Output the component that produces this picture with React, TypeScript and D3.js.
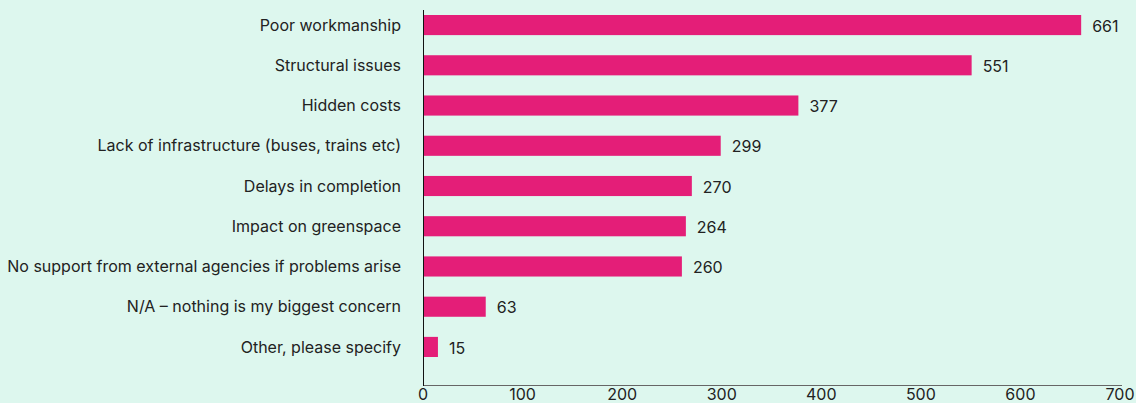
import React, { useEffect, useRef } from 'react';
import * as d3 from 'd3';

const categories = [
  'Poor workmanship',
  'Structural issues',
  'Hidden costs',
  'Lack of infrastructure (buses, trains etc)',
  'Delays in completion',
  'Impact on greenspace',
  'No support from external agencies if problems arise',
  'N/A – nothing is my biggest concern',
  'Other, please specify',
];
const values = [661, 551, 377, 299, 270, 264, 260, 63, 15];
const xTicks = [0, 100, 200, 300, 400, 500, 600, 700];

const width = 1136;
const height = 403;
const marginLeft = 423;
const marginRight = 16;

const App: React.FC = () => {
  const svgRef = useRef<SVGSVGElement>(null);

  useEffect(() => {
    document.body.style.margin = '0';
    if (!svgRef.current) return;
    const svg = d3.select(svgRef.current);
    svg.selectAll('*').remove();

    const x = d3.scaleLinear().domain([0, 700]).range([marginLeft, width - marginRight]);
    const y = d3.scaleBand<string>()
      .domain(categories)
      .range([15, 357])
      .paddingInner(0.5)
      .paddingOuter(0);

    svg.append('rect')
      .attr('width', width)
      .attr('height', height)
      .attr('fill', '#ddf7ee');

    const font = 'Inter, "Noto Sans", sans-serif';

    // bars
    svg.selectAll('.bar')
      .data(values)
      .enter()
      .append('rect')
      .attr('class', 'bar')
      .attr('x', x(0))
      .attr('y', (_, i) => y(categories[i]) || 0)
      .attr('width', d => x(d) - x(0))
      .attr('height', y.bandwidth())
      .attr('fill', '#e41e78');

    // value labels
    svg.selectAll('.val')
      .data(values)
      .enter()
      .append('text')
      .attr('class', 'val')
      .attr('x', d => x(d) + 11)
      .attr('y', (_, i) => (y(categories[i]) || 0) + y.bandwidth() / 2 + 1)
      .attr('dy', '0.35em')
      .attr('font-family', font)
      .attr('font-size', 16)
      .attr('fill', '#222')
      .text(d => String(d));

    // category labels
    svg.selectAll('.cat')
      .data(categories)
      .enter()
      .append('text')
      .attr('class', 'cat')
      .attr('x', 401)
      .attr('y', d => (y(d) || 0) + y.bandwidth() / 2)
      .attr('dy', '0.35em')
      .attr('text-anchor', 'end')
      .attr('font-family', font)
      .attr('font-size', 16)
      .attr('fill', '#222')
      .text(d => d);

    // axes
    const axisY = 385;
    svg.append('line')
      .attr('x1', x(0)).attr('x2', x(700) + 2)
      .attr('y1', axisY + 0.5).attr('y2', axisY + 0.5)
      .attr('stroke', '#666')
      .attr('stroke-width', 1.2);
    svg.append('line')
      .attr('x1', x(0) + 0.5).attr('x2', x(0) + 0.5)
      .attr('y1', 10).attr('y2', axisY + 1)
      .attr('stroke', '#111')
      .attr('stroke-width', 1);

    svg.selectAll('.tick')
      .data(xTicks)
      .enter()
      .append('text')
      .attr('class', 'tick')
      .attr('x', d => x(d))
      .attr('y', 400)
      .attr('text-anchor', 'middle')
      .attr('font-family', font)
      .attr('font-size', 16)
      .attr('fill', '#222')
      .text(d => String(d));
  }, []);

  return <svg ref={svgRef} width={width} height={height} style={{ display: 'block' }} />;
};

export default App;
